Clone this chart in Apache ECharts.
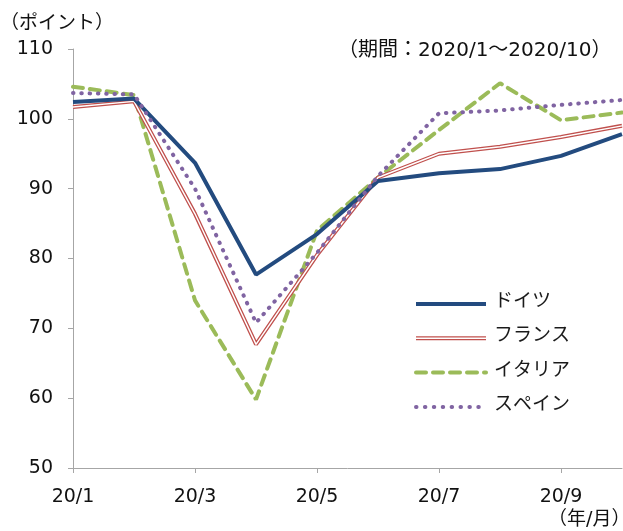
<!DOCTYPE html>
<html>
<head>
<meta charset="utf-8">
<script src="https://cdn.jsdelivr.net/npm/echarts@6/dist/echarts.min.js"></script>
<style>
  html, body { margin: 0; padding: 0; background: #fff; }
  #chart { width: 623px; height: 531px; }
</style>
</head>
<body>
<div id="chart"></div>
<script>
const months = ['20/1', '20/2', '20/3', '20/4', '20/5', '20/6', '20/7', '20/8', '20/9', '20/10'];
const germany = [102.4, 102.9, 93.7, 77.7, 83.5, 91.1, 92.2, 92.8, 94.7, 97.8];
const france  = [101.7, 102.5, 86.4, 67.7, 80.5, 91.6, 95.0, 96.0, 97.4, 99.0];
const italy   = [104.6, 103.4, 74.0, 59.8, 84.0, 91.6, 98.4, 105.1, 99.8, 100.9];
const spain   = [103.7, 103.5, 90.0, 70.8, 80.8, 91.8, 100.8, 101.2, 102.0, 102.7];
const names = ['ドイツ', 'フランス', 'イタリア', 'スペイン'];
const colors = ['#234b7f', '#c0504d', '#9bbb59', '#8064a2'];

const font = '"DejaVu Sans", "Noto Sans CJK JP", sans-serif';
const chart = echarts.init(document.getElementById('chart'));

// legend drawn by hand so the double line of France can be shown
const legendItems = [];
const styles = [
    { lineWidth: 4 },
    { lineWidth: 4 },
    { lineWidth: 4, lineDash: [10, 7], lineCap: 'round' },
    { lineWidth: 4, lineDash: [0.5, 8.4], lineCap: 'round' }
];
names.forEach((n, i) => {
    const y = 304 + i * 34.3;
    legendItems.push({
        type: 'line',
        shape: { x1: 416, y1: y, x2: 486, y2: y },
        style: Object.assign({ stroke: colors[i] }, styles[i])
    });
    if (i === 1) {
        legendItems.push({
            type: 'line',
            shape: { x1: 416, y1: y, x2: 486, y2: y },
            style: { stroke: '#fff', lineWidth: 1.4 }
        });
    }
    legendItems.push({
        type: 'text',
        x: 494, y: y - 2,
        style: { text: n, font: '19px ' + font, fill: '#1a1a1a', verticalAlign: 'middle' }
    });
});

chart.setOption({
    animation: false,
    grid: { left: 73, right: 1, top: 49, bottom: 63 },
    xAxis: {
        type: 'category',
        data: months,
        boundaryGap: false,
        axisLine: { lineStyle: { color: '#a6a6a6', width: 1 } },
        axisTick: { interval: 1, length: 5, lineStyle: { color: '#a6a6a6' } },
        axisLabel: { interval: 1, color: '#111', fontSize: 19, fontFamily: font, margin: 20 }
    },
    yAxis: {
        type: 'value',
        min: 50, max: 110, interval: 10,
        splitLine: { show: false },
        axisLine: { show: true, lineStyle: { color: '#a6a6a6', width: 1 } },
        axisTick: { show: true, length: 5, lineStyle: { color: '#a6a6a6' } },
        axisLabel: { color: '#111', fontSize: 19, fontFamily: font, margin: 20 }
    },
    series: [
        {
            name: names[0], type: 'line', data: germany, symbol: 'none', z: 5,
            lineStyle: { color: colors[0], width: 4 }
        },
        {
            name: names[1], type: 'line', data: france, symbol: 'none', z: 3,
            lineStyle: { color: colors[1], width: 4 }
        },
        {
            name: names[1] + '_inner', type: 'line', data: france, symbol: 'none', z: 4,
            lineStyle: { color: '#fff', width: 1.4 }
        },
        {
            name: names[2], type: 'line', data: italy, symbol: 'none', z: 2,
            lineStyle: { color: colors[2], width: 4, type: [10, 7], cap: 'round' }
        },
        {
            name: names[3], type: 'line', data: spain, symbol: 'none', z: 6,
            lineStyle: { color: colors[3], width: 4, type: [0.5, 7.8], cap: 'round' }
        }
    ],
    graphic: [
        {
            type: 'text', x: 0, y: 24,
            style: { text: '（ポイント）', font: '19px ' + font, fill: '#111', verticalAlign: 'middle' }
        },
        {
            type: 'text', x: 338, y: 51,
            style: { text: '（期間：2020/1～2020/10）', font: '20px ' + font, fill: '#111', verticalAlign: 'middle' }
        },
        {
            type: 'text', x: 548, y: 520,
            style: { text: '（年/月）', font: '19px ' + font, fill: '#111', verticalAlign: 'middle' }
        }
    ].concat(legendItems)
});
</script>
</body>
</html>
